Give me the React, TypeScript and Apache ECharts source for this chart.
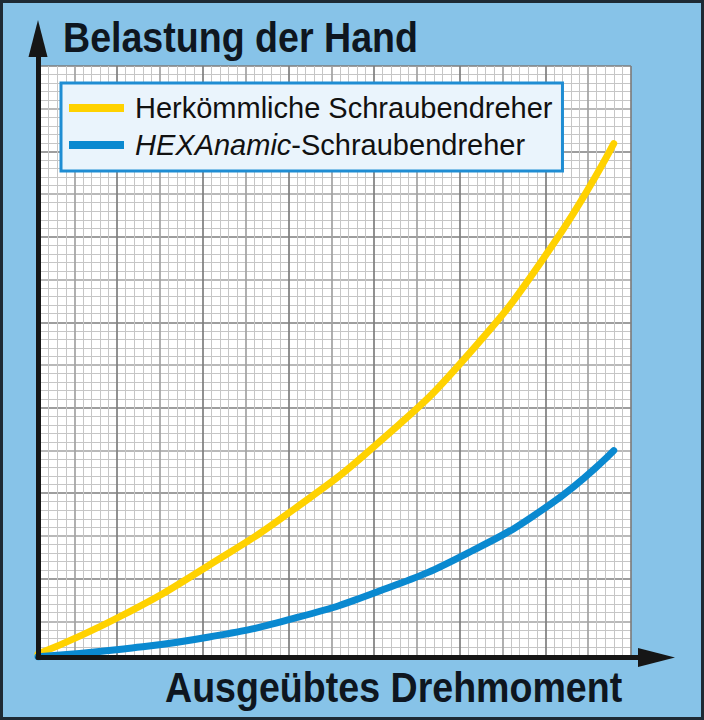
import { useEffect, useRef } from 'react';
import * as echarts from 'echarts';

// torque in minor grid cells, load
const torque = [0, 10, 20, 30, 40, 50, 60, 67.3];
const conventional = [0.4, 5.0, 10.8, 17.4, 25.3, 35.1, 48.0, 60.1];
const hexanamic = [0.1, 1.0, 2.4, 4.6, 7.8, 12.1, 18.0, 24.2];
const seriesNames = ['Herkömmliche Schraubendreher', 'HEXAnamic-Schraubendreher'];
const chartTitle = 'Belastung der Hand';
const xTitle = 'Ausgeübtes Drehmoment';

const BG = '#87c3e8';
const INK = '#0e1620';
const YELLOW = '#ffd200';
const BLUE = '#0a89d0';
const bodyFont = '"Liberation Sans", Arial, sans-serif';

const paperAxis = (gridIndex: number) => ({
  type: 'value' as const,
  gridIndex,
  min: 0,
  max: 70,
  interval: 5,
  z: 0,
  axisLine: { show: false },
  axisTick: { show: false },
  axisLabel: { show: false },
  minorTick: { show: false, splitNumber: 5 },
  splitLine: { show: true, lineStyle: { color: ['#7e7e7e', '#a2a2a2'], width: 1.7 } },
  minorSplitLine: { show: true, lineStyle: { color: '#c6c6c6', width: 1 } },
});

const arrowAxis = (max: number) => ({
  type: 'value' as const,
  gridIndex: 1,
  min: 0,
  max,
  z: 3,
  axisLine: {
    show: true,
    onZero: false,
    symbol: ['none', 'triangle'],
    symbolSize: [19, 37],
    lineStyle: { color: '#161616', width: 5 },
  },
  axisTick: { show: false },
  axisLabel: { show: false },
  splitLine: { show: false },
});

// condensed bold heading, squeezed horizontally
const heading = (text: string, x: number, y: number) => ({
  type: 'text' as const,
  x,
  y,
  z: 5,
  scaleX: 0.874,
  scaleY: 1,
  style: {
    text,
    fontFamily: bodyFont,
    fontWeight: 'bold',
    fontSize: 43,
    fill: INK,
    align: 'left',
    verticalAlign: 'middle',
  },
});

export default function App() {
  const divRef = useRef<HTMLDivElement | null>(null);

  useEffect(() => {
    if (!divRef.current) return;
    const chart = echarts.init(divRef.current, null, { renderer: 'svg' });

    chart.setOption({
      animation: false,
      backgroundColor: BG,
      legend: {
        orient: 'vertical',
        left: 61,
        top: 83,
        padding: [10, 10, 11, 8],
        itemWidth: 55,
        itemHeight: 8,
        itemGap: 7,
        icon: 'rect',
        backgroundColor: '#eaf4fc',
        borderColor: '#1f8dd3',
        borderWidth: 3,
        data: seriesNames,
        formatter: (name: string) =>
          name.startsWith('HEXAnamic') ? '{i|HEXAnamic}{n|-Schraubendreher}' : '{n|' + name + '}',
        textStyle: {
          fontFamily: bodyFont,
          fontSize: 29,
          color: '#111',
          lineHeight: 30,
          padding: [0, 0, 0, 6],
          rich: {
            i: { fontFamily: bodyFont, fontSize: 29, fontStyle: 'italic', color: '#111', lineHeight: 30 },
            n: { fontFamily: bodyFont, fontSize: 29, color: '#111', lineHeight: 30 },
          },
        },
      },
      grid: [
        {
          left: 31.5,
          top: 66,
          width: 599.5,
          height: 598,
          show: true,
          backgroundColor: '#ffffff',
          borderWidth: 0,
          containLabel: false,
        },
        { left: 38, top: 38.5, width: 618.5, height: 619, containLabel: false },
      ],
      xAxis: [paperAxis(0), arrowAxis(72.3)],
      yAxis: [paperAxis(0), arrowAxis(72.4)],
      graphic: [
        { type: 'rect', z: 1, shape: { x: 10, y: 60, width: 28, height: 612 }, style: { fill: BG } },
        { type: 'rect', z: 1, shape: { x: 10, y: 657.5, width: 630, height: 14 }, style: { fill: BG } },
        heading(chartTitle, 63, 37),
        heading(xTitle, 165, 687),
        {
          type: 'rect',
          z: 10,
          silent: true,
          shape: { x: 1.5, y: 1.5, width: 701, height: 717 },
          style: { fill: 'none', stroke: '#1e2a34', lineWidth: 3 },
        },
      ],
      series: [
        {
          name: seriesNames[0],
          type: 'line',
          xAxisIndex: 1,
          yAxisIndex: 1,
          z: 2,
          smooth: 0.5,
          symbol: 'none',
          color: YELLOW,
          lineStyle: { color: YELLOW, width: 7, cap: 'round' },
          data: torque.map((t, i) => [t, conventional[i]]),
        },
        {
          name: seriesNames[1],
          type: 'line',
          xAxisIndex: 1,
          yAxisIndex: 1,
          z: 2,
          smooth: 0.5,
          symbol: 'none',
          color: BLUE,
          lineStyle: { color: BLUE, width: 7, cap: 'round' },
          data: torque.map((t, i) => [t, hexanamic[i]]),
        },
      ],
    });

    return () => chart.dispose();
  }, []);

  return (
    <div
      ref={divRef}
      style={{ position: 'fixed', left: 0, top: 0, width: 704, height: 720 }}
    />
  );
}
